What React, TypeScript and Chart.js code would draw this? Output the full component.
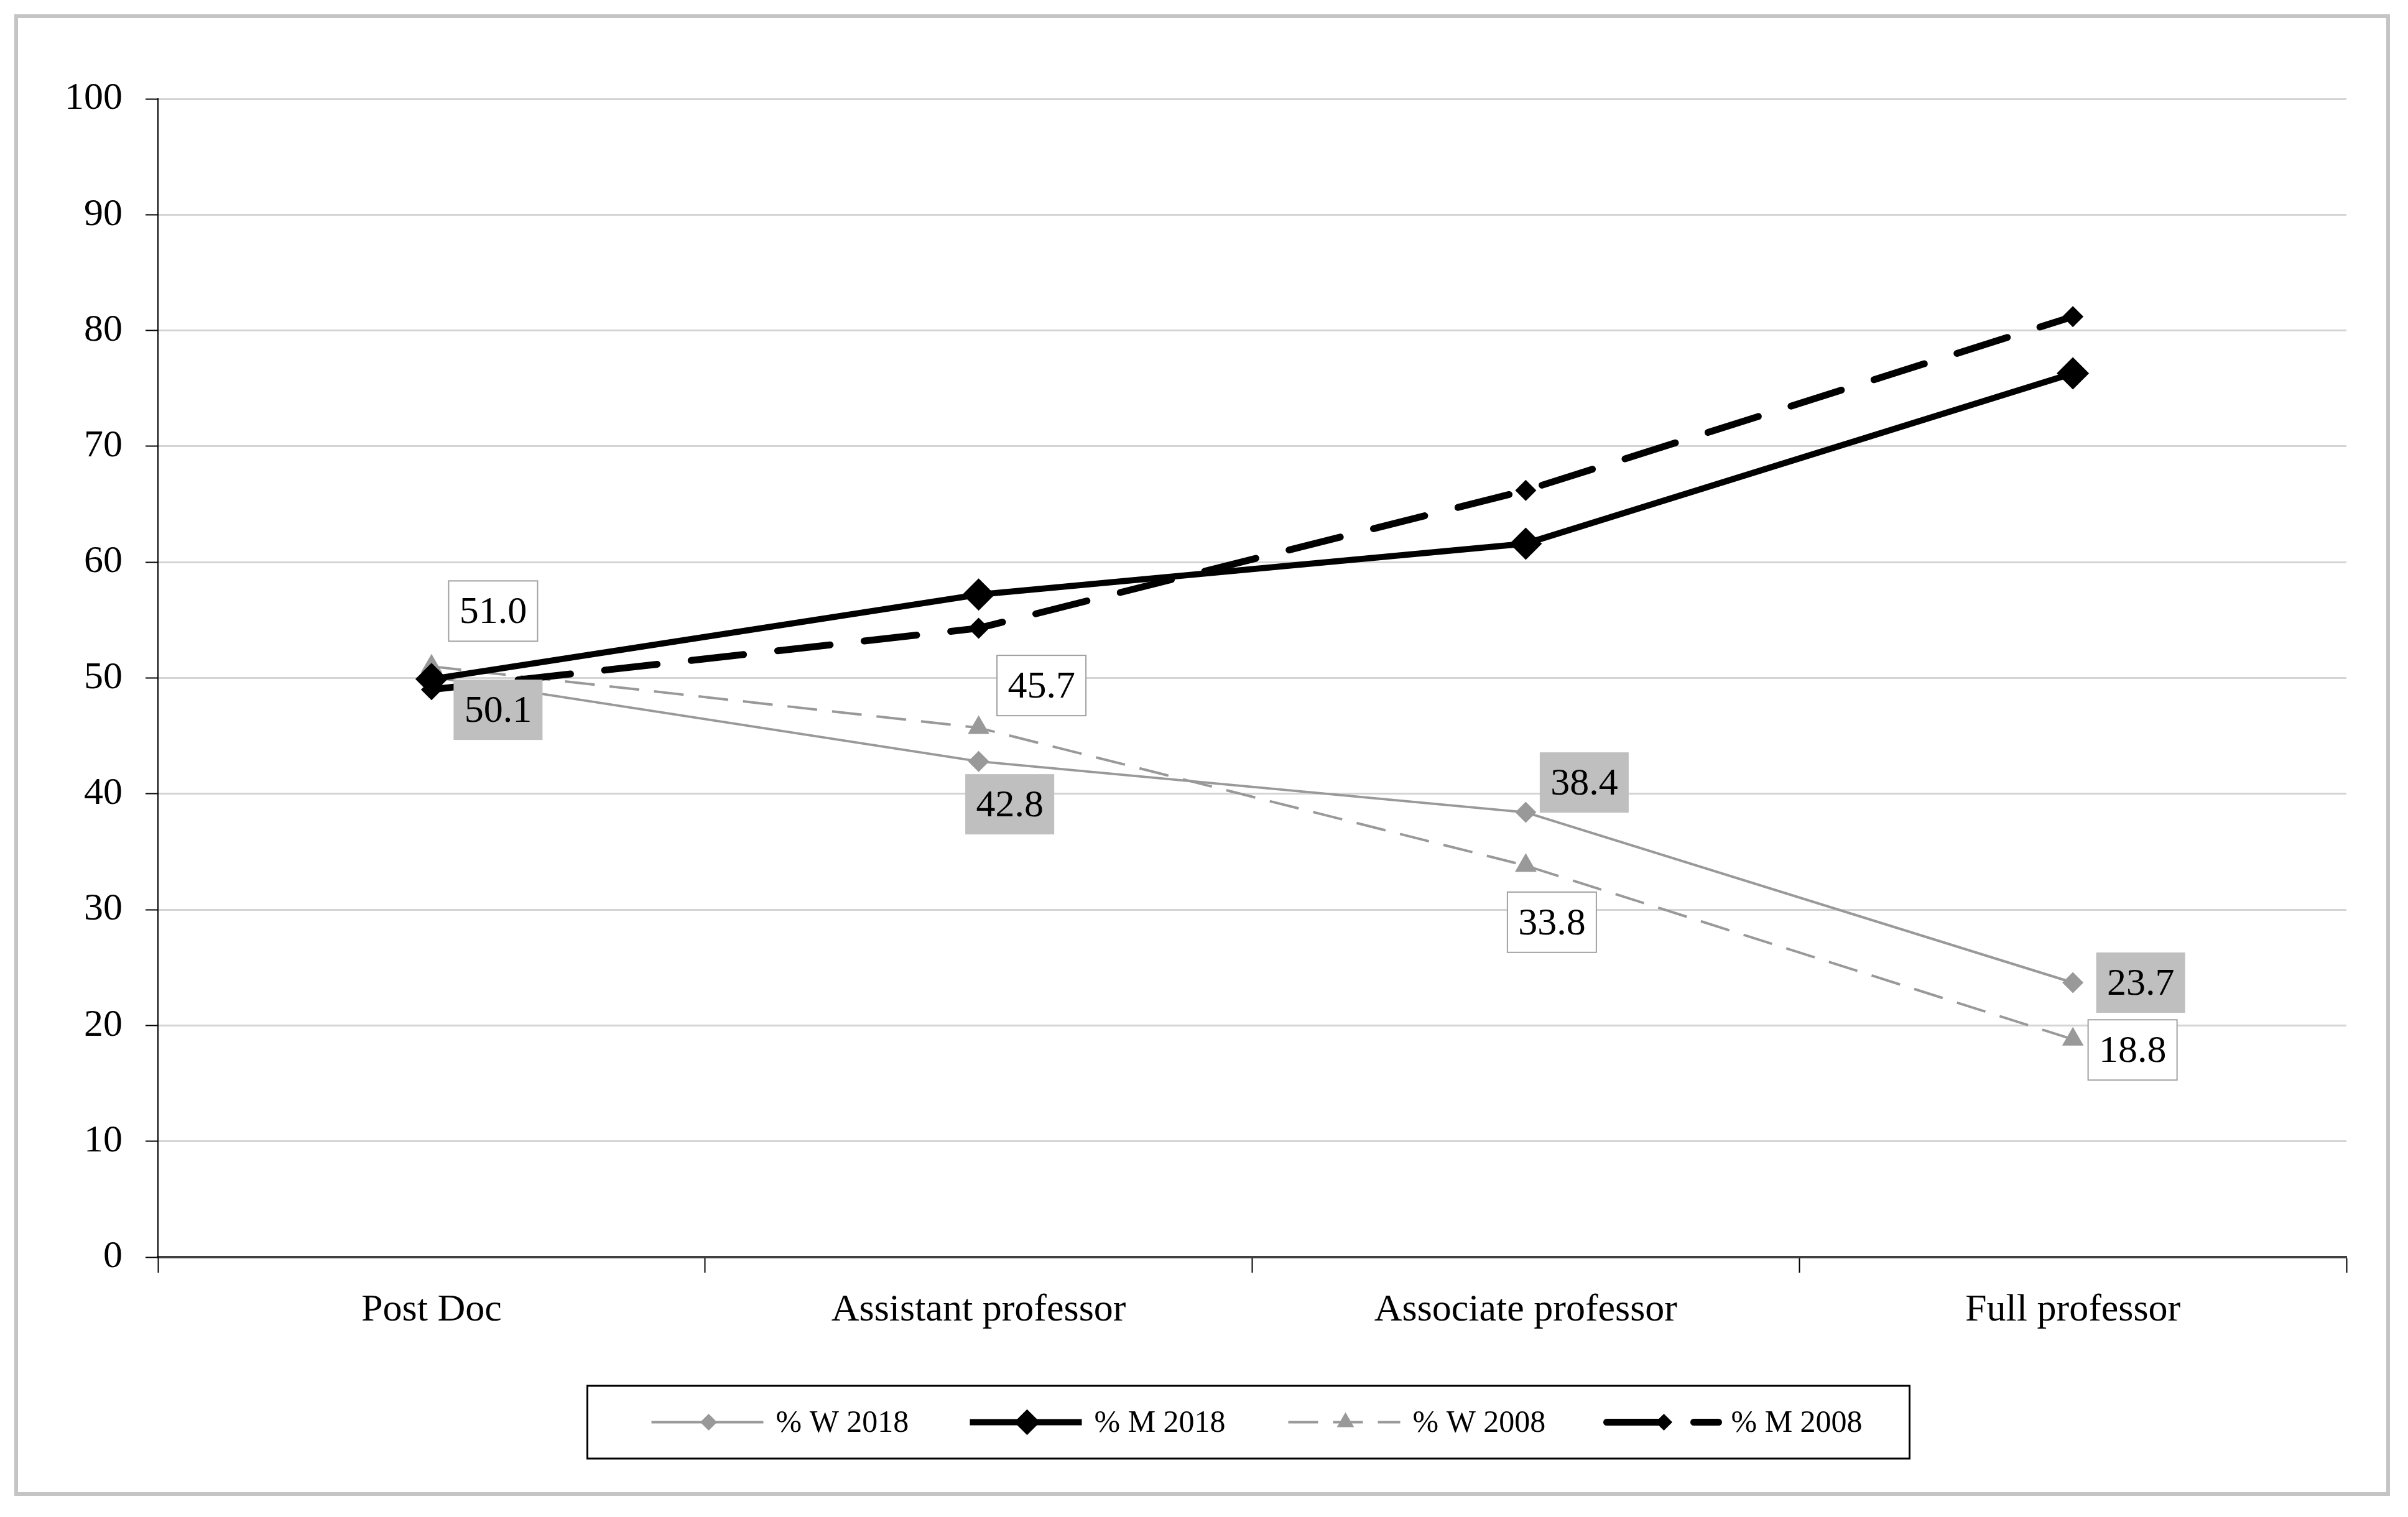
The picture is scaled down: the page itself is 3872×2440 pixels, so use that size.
import { useEffect, useRef } from 'react';
import { Chart, registerables } from 'chart.js';

Chart.register(...registerables);

// Data (share in %, women vs men, 2018 and 2008)
const categories = ['Post Doc', 'Assistant professor', 'Associate professor', 'Full professor'];
const women2018 = [50.1, 42.8, 38.4, 23.7];
const men2018 = [49.9, 57.2, 61.6, 76.3];
const women2008 = [51.0, 45.7, 33.8, 18.8];
const men2008 = [49.0, 54.3, 66.2, 81.2];
const seriesNames = ['% W 2018', '% M 2018', '% W 2008', '% M 2008'];

// Where each value box sits relative to its point (px)
const w2018LabelOffsets = [[107, 53], [50, 69], [94, -48], [109, 0]];
const w2008LabelOffsets = [[99, -89], [101, -68], [42, 91], [96, 17]];

const FONT = "'Liberation Serif', 'Times New Roman', serif";
const GRAY = '#999999';

const labelSets = [
  { datasetIndex: 0, offsets: w2018LabelOffsets, fill: '#bfbfbf', stroke: null },
  { datasetIndex: 2, offsets: w2008LabelOffsets, fill: '#ffffff', stroke: '#a0a0a0' },
];

function drawMarker(ctx: CanvasRenderingContext2D, style: string, x: number, y: number, r: number, color: string) {
  ctx.save();
  ctx.fillStyle = color;
  ctx.beginPath();
  if (style === 'triangle') {
    ctx.moveTo(x, y - r);
    ctx.lineTo(x + r * Math.sin((2 * Math.PI) / 3), y - r * Math.cos((2 * Math.PI) / 3));
    ctx.lineTo(x + r * Math.sin((4 * Math.PI) / 3), y - r * Math.cos((4 * Math.PI) / 3));
  } else {
    ctx.moveTo(x, y - r);
    ctx.lineTo(x + r, y);
    ctx.lineTo(x, y + r);
    ctx.lineTo(x - r, y);
  }
  ctx.closePath();
  ctx.fill();
  ctx.restore();
}

const overlayPlugin = {
  id: 'overlay',
  afterDatasetsDraw(chart: any) {
    const ctx: CanvasRenderingContext2D = chart.ctx;
    const bw = 143;
    const bh = 97;
    labelSets.forEach(({ datasetIndex, offsets, fill, stroke }) => {
      const meta = chart.getDatasetMeta(datasetIndex);
      const values = chart.data.datasets[datasetIndex].data as number[];
      meta.data.forEach((pt: any, i: number) => {
        const cx = pt.x + offsets[i][0];
        const cy = pt.y + offsets[i][1];
        ctx.save();
        ctx.fillStyle = fill;
        ctx.fillRect(cx - bw / 2, cy - bh / 2, bw, bh);
        if (stroke) {
          ctx.strokeStyle = stroke;
          ctx.lineWidth = 2;
          ctx.strokeRect(cx - bw / 2, cy - bh / 2, bw, bh);
        }
        ctx.fillStyle = '#000';
        ctx.font = `62px ${FONT}`;
        ctx.textAlign = 'center';
        ctx.textBaseline = 'middle';
        ctx.fillText(values[i].toFixed(1), cx, cy + 3);
        ctx.restore();
      });
    });
  },
  afterDraw(chart: any) {
    const ctx: CanvasRenderingContext2D = chart.ctx;
    const area = chart.chartArea;
    const boxW = 2126;
    const boxH = 117;
    const left = (area.left + area.right) / 2 - boxW / 2 - 6;
    const top = area.bottom + 207;
    const midY = top + boxH / 2;

    ctx.save();
    ctx.strokeStyle = '#000';
    ctx.lineWidth = 3;
    ctx.strokeRect(left, top, boxW, boxH);
    ctx.restore();

    chart.data.datasets.forEach((ds: any, i: number) => {
      const x0 = left + 103 + i * 512;
      const x1 = x0 + 180;
      ctx.save();
      ctx.strokeStyle = ds.borderColor;
      ctx.lineWidth = ds.borderWidth;
      ctx.lineCap = ds.borderCapStyle || 'butt';
      ctx.setLineDash(ds.borderDash || []);
      ctx.beginPath();
      ctx.moveTo(x0, midY);
      ctx.lineTo(x1, midY);
      ctx.stroke();
      ctx.restore();
      drawMarker(ctx, ds.pointStyle, x0 + 92, midY, ds.pointRadius * 0.8, ds.pointBackgroundColor);

      ctx.save();
      ctx.fillStyle = '#000';
      ctx.font = `50px ${FONT}`;
      ctx.textAlign = 'left';
      ctx.textBaseline = 'middle';
      ctx.fillText(ds.label, x1 + 20, midY + 2);
      ctx.restore();
    });
  },
};

export default function App() {
  const canvasRef = useRef<HTMLCanvasElement | null>(null);
  const chartRef = useRef<Chart<'line'> | null>(null);

  useEffect(() => {
    if (!canvasRef.current) return;
    if (chartRef.current) chartRef.current.destroy();

    const tickFont = { family: FONT, size: 62 };

    chartRef.current = new Chart(canvasRef.current, {
      type: 'line',
      data: {
        labels: categories,
        datasets: [
          {
            label: seriesNames[0],
            data: women2018,
            borderColor: GRAY,
            borderWidth: 4,
            pointStyle: 'rectRot',
            pointRadius: 17,
            pointBackgroundColor: GRAY,
            pointBorderColor: GRAY,
            pointBorderWidth: 0,
            order: 2,
          },
          {
            label: seriesNames[1],
            data: men2018,
            borderColor: '#000',
            borderWidth: 10,
            pointStyle: 'rectRot',
            pointRadius: 26,
            pointBackgroundColor: '#000',
            pointBorderColor: '#000',
            pointBorderWidth: 0,
            order: 0,
          },
          {
            label: seriesNames[2],
            data: women2008,
            borderColor: GRAY,
            borderWidth: 4,
            borderDash: [48, 24],
            pointStyle: 'triangle',
            pointRadius: 20,
            pointBackgroundColor: GRAY,
            pointBorderColor: GRAY,
            pointBorderWidth: 0,
            order: 3,
          },
          {
            label: seriesNames[3],
            data: men2008,
            borderColor: '#000',
            borderWidth: 11,
            borderDash: [85, 55],
            borderCapStyle: 'round',
            pointStyle: 'rectRot',
            pointRadius: 17,
            pointBackgroundColor: '#000',
            pointBorderColor: '#000',
            pointBorderWidth: 0,
            order: 1,
          },
        ],
      },
      options: {
        animation: false,
        responsive: true,
        maintainAspectRatio: false,
        devicePixelRatio: 1,
        events: [],
        layout: { padding: { left: 0, top: 130, right: 64, bottom: 238 } },
        elements: { line: { tension: 0 } },
        scales: {
          x: {
            type: 'category',
            offset: true,
            afterFit: (s: any) => {
              s.height = 140;
            },
            grid: {
              offset: true,
              drawOnChartArea: false,
              drawTicks: true,
              tickLength: 25,
              tickColor: '#000',
              tickWidth: 2,
            },
            border: { color: '#404040', width: 4 },
            ticks: { color: '#000', font: tickFont, padding: 24, maxRotation: 0, autoSkip: false },
          },
          y: {
            min: 0,
            max: 100,
            afterFit: (s: any) => {
              s.width = 225;
            },
            grid: {
              color: '#d4d4d4',
              lineWidth: 3,
              drawTicks: true,
              tickLength: 20,
              tickColor: '#000',
              tickWidth: 2,
            },
            border: { color: '#000', width: 2 },
            ticks: { stepSize: 10, color: '#000', font: tickFont, padding: 37 },
          },
        },
        plugins: {
          legend: { display: false },
          tooltip: { enabled: false },
        },
      },
      plugins: [overlayPlugin],
    });

    return () => {
      if (chartRef.current) {
        chartRef.current.destroy();
        chartRef.current = null;
      }
    };
  }, []);

  return (
    <div
      style={{
        position: 'absolute',
        left: 23,
        top: 23,
        width: 3808,
        height: 2371,
        border: '6px solid #c4c4c4',
        background: '#fff',
      }}
    >
      <canvas ref={canvasRef} aria-label="Share of women and men by academic position, 2008 and 2018" />
    </div>
  );
}
